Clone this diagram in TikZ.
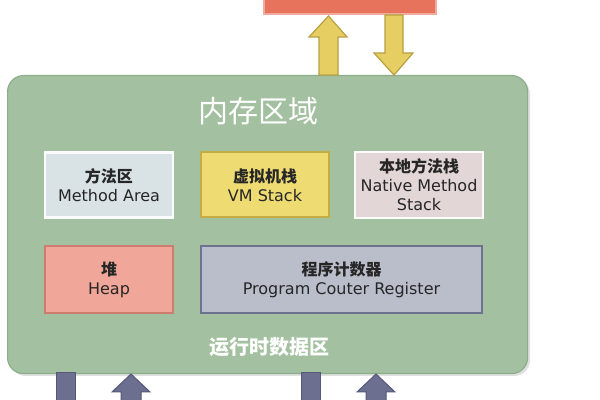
\documentclass[tikz,border=0pt]{standalone}
\usepackage{fontspec}
\setmainfont{DejaVu Sans}
\newfontfamily\cjk{Noto Sans CJK SC}
\usetikzlibrary{positioning}
\definecolor{mem}{HTML}{A3C1A0}
\definecolor{memline}{HTML}{8EAE8B}
\definecolor{topred}{HTML}{E8735C}
\definecolor{yarrow}{HTML}{E6CE62}
\definecolor{yarrowline}{HTML}{B7A042}
\definecolor{barrow}{HTML}{6C6F8F}
\definecolor{barrowline}{HTML}{55587A}
\definecolor{methodfill}{HTML}{D9E3E5}
\definecolor{vmfill}{HTML}{EEDC72}
\definecolor{vmline}{HTML}{C4AE44}
\definecolor{nativefill}{HTML}{E2D6D6}
\definecolor{heapfill}{HTML}{F0A698}
\definecolor{heapline}{HTML}{CC7E6E}
\definecolor{pcrfill}{HTML}{BABECB}
\definecolor{pcrline}{HTML}{6D7290}
\definecolor{txt}{HTML}{262626}
\tikzset{
  area/.style={rectangle, minimum width=#1, inner sep=0pt, align=center, text=txt, font=\fontsize{8}{9.5}\selectfont},
  area/.default=64pt,
  yarr/.style={fill=yarrow, draw=yarrowline, line width=0.6pt},
  barr/.style={fill=barrow, draw=barrowline, line width=0.5pt},
}
\begin{document}
\begin{tikzpicture}[x=0.5pt,y=-0.5pt]
\useasboundingbox (0,0) rectangle (600,400);
\fill[white] (0,0) rectangle (600,400);
% top red box
\node[draw=topred!60!white, line width=1pt, fill=topred, minimum width=86pt, minimum height=20pt, inner sep=0pt, anchor=south] (cpu) at (350,15) {};
% memory area
\fill[black!12, rounded corners=8pt] (10,78) rectangle (530,376);
\node[draw=memline, fill=mem, rounded corners=8pt, line width=0.6pt, minimum width=260pt, minimum height=149pt, inner sep=0pt, anchor=north west] (mem) at (7,75) {};
\node[text=white, font=\cjk\fontsize{15}{15}\selectfont] (title) at (258,111) {内存区域};
% yellow arrows
\draw[yarr] (319,75) -- (319,37) -- (309,37) -- (328.5,16) -- (347,37) -- (338,37) -- (338,75) -- cycle;
\draw[yarr] (385,15) -- (385,53) -- (374,53) -- (394,75) -- (413,53) -- (403,53) -- (403,15) -- cycle;
% row 1
\node[area, draw=white!90!methodfill, line width=1.2pt, fill=methodfill, minimum height=32.5pt] (method) at (109,185) {{\cjk\bfseries 方法区}\\Method Area};
\node[area, draw=vmline, line width=1pt, fill=vmfill, minimum height=32.5pt] (vm) at (265,185) {{\cjk\bfseries 虚拟机栈}\\VM Stack};
\node[area, draw=white!90!nativefill, line width=1.2pt, fill=nativefill, minimum height=33pt] (native) at (419,185) {{\cjk\bfseries 本地方法栈}\\Native Method\\Stack};
% row 2
\node[area, draw=heapline, line width=1pt, fill=heapfill, minimum height=33.5pt] (heap) at (109,279.5) {{\cjk\bfseries 堆}\\Heap};
\node[area=140.5pt, draw=pcrline, line width=1pt, fill=pcrfill, minimum height=33.5pt] (pcr) at (341.5,279.5) {{\cjk\bfseries 程序计数器}\\Program Couter Register};
\node[text=white, font=\cjk\bfseries\fontsize{10}{10}\selectfont] (rt) at (269,347) {运行时数据区};
% bottom arrows
\draw[barr] (56,373) rectangle (75,401);
\draw[barr] (121,401) -- (121,392) -- (112,392) -- (131,374) -- (150,392) -- (141,392) -- (141,401);
\draw[barr] (301,373) rectangle (320,401);
\draw[barr] (366,401) -- (366,392) -- (357,392) -- (376,374) -- (395,392) -- (386,392) -- (386,401);
\end{tikzpicture}
\end{document}
